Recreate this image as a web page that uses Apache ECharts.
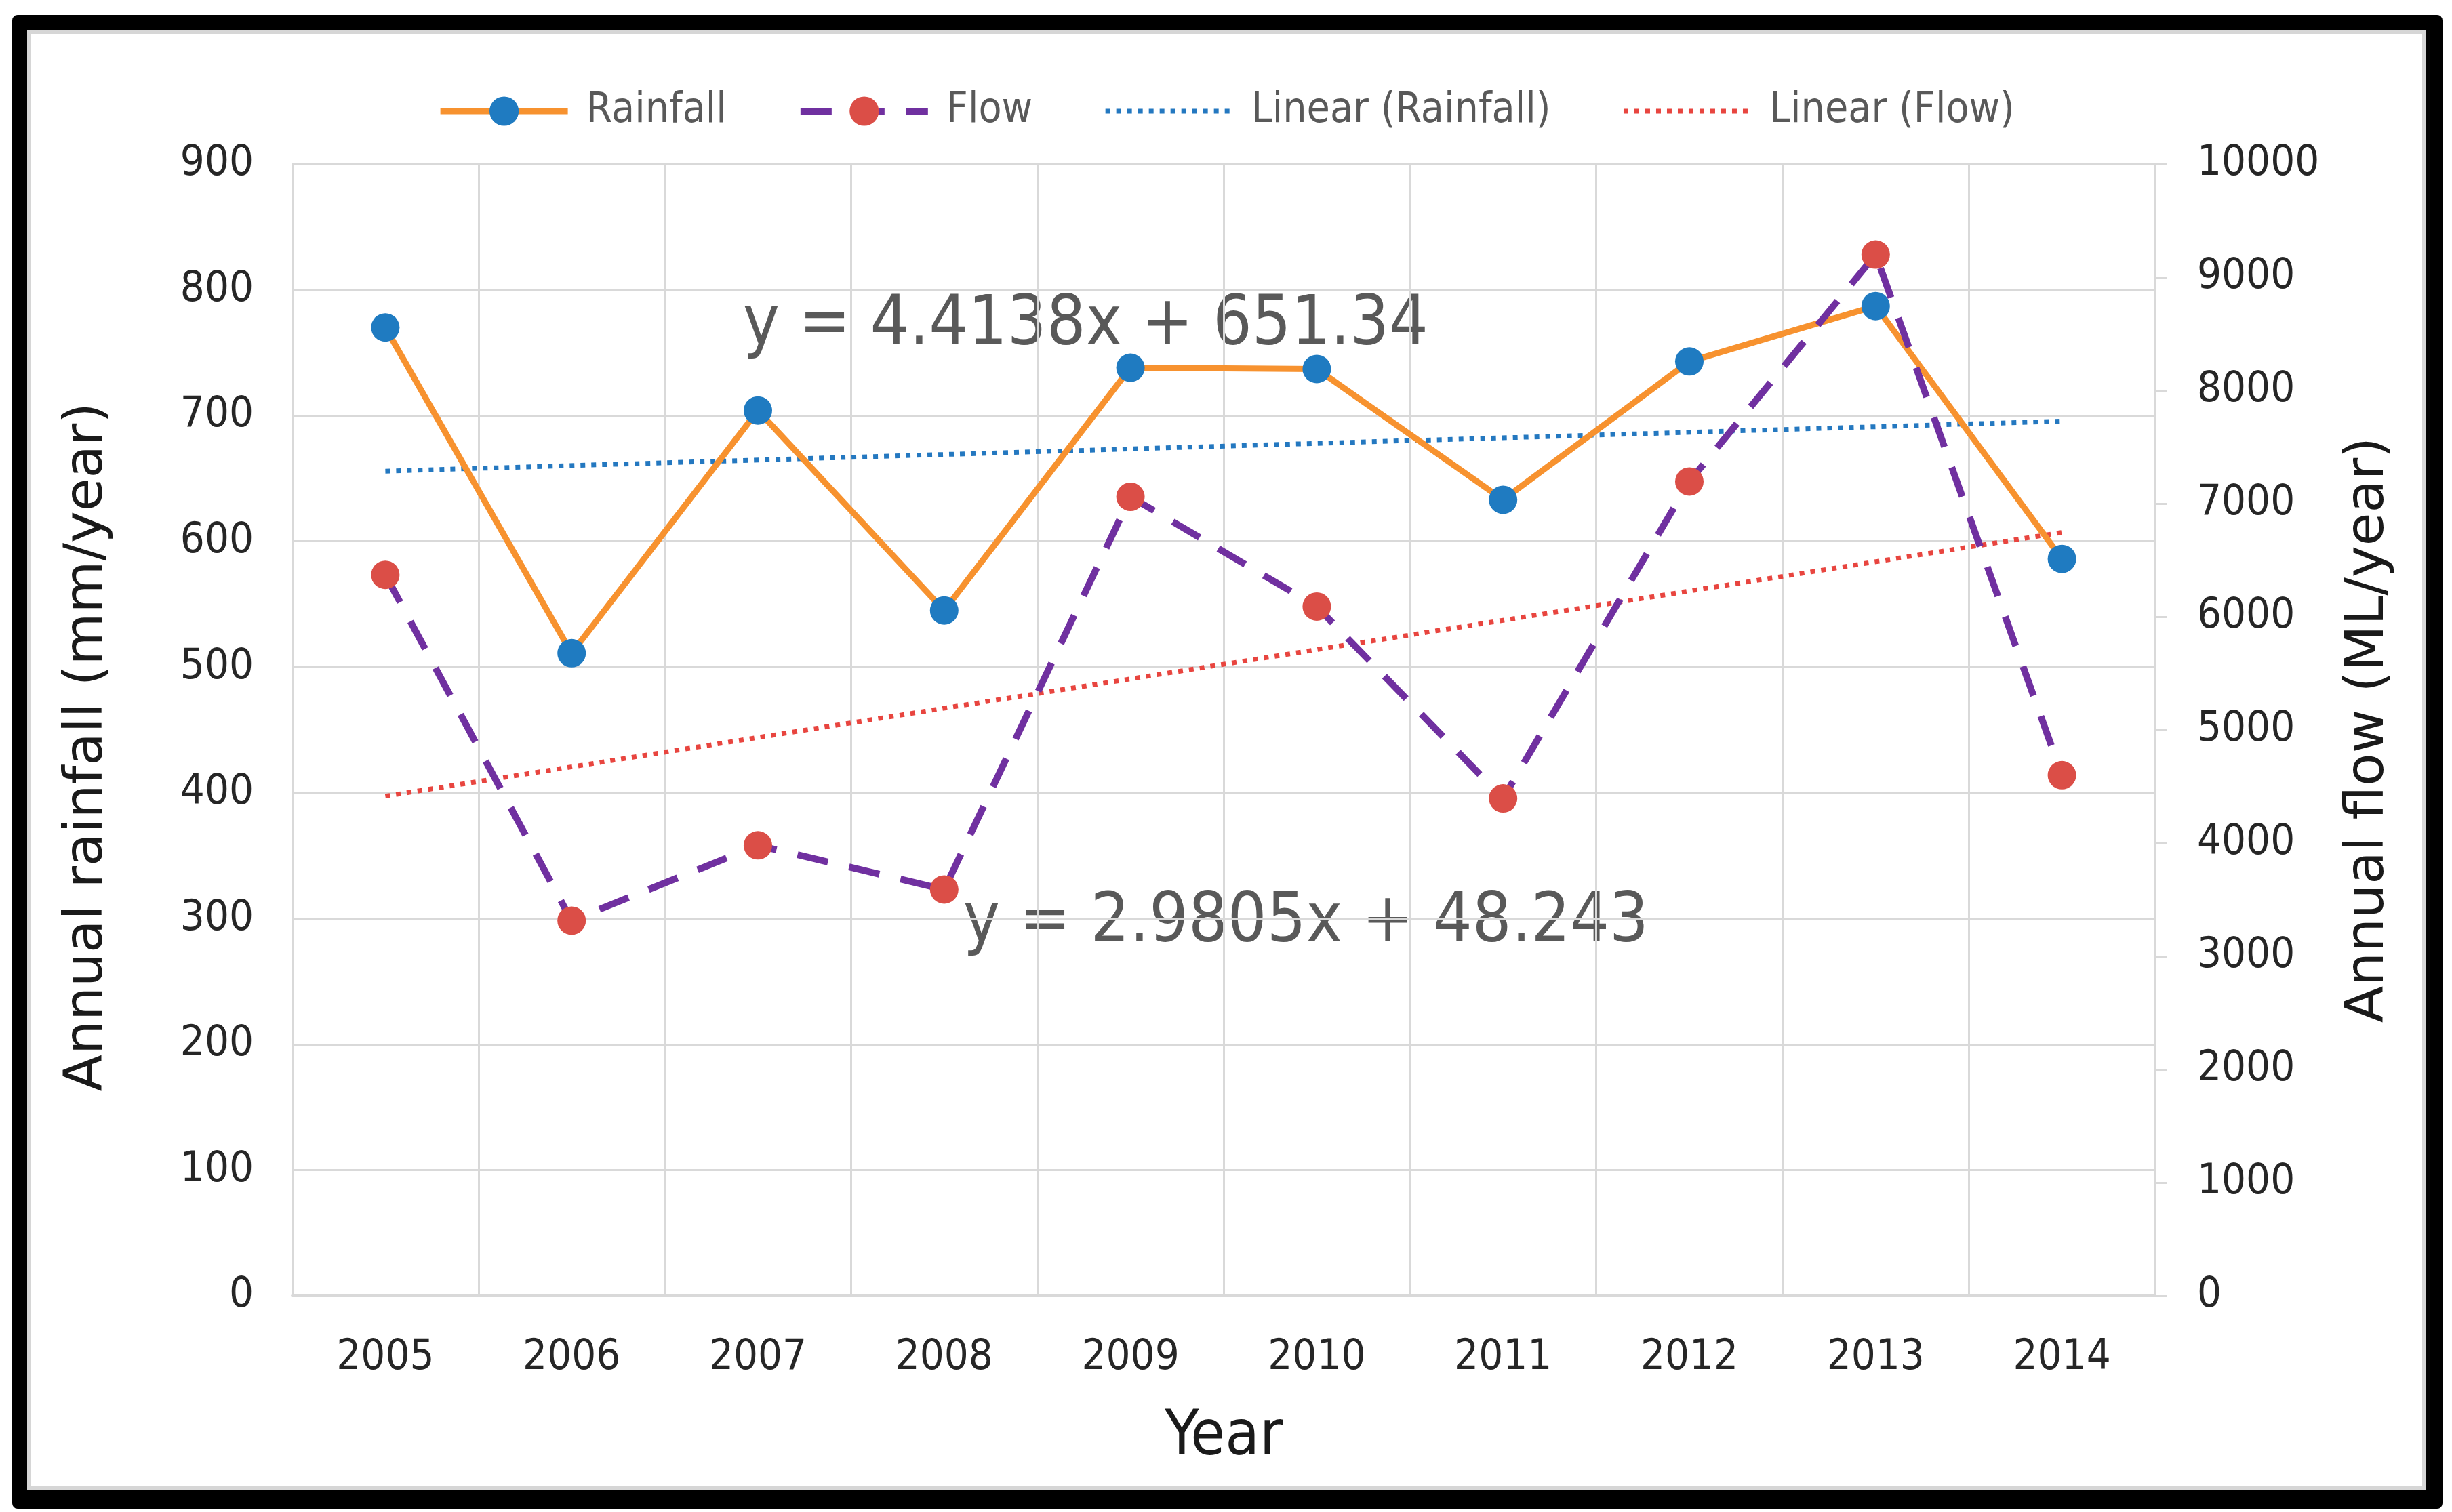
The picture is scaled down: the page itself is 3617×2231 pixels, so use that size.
<!DOCTYPE html>
<html>
<head>
<meta charset="utf-8">
<title>Annual rainfall and flow</title>
<script src="https://cdn.jsdelivr.net/npm/echarts@6/dist/echarts.min.js"></script>
<style>
  html, body { margin: 0; padding: 0; background: #fff; }
  #frame {
    position: absolute; left: 18px; top: 22px; width: 3585px; height: 2204px;
    box-sizing: border-box; border: 22px solid #000; border-right-width: 24px; border-bottom-width: 28px;
    border-radius: 8px; box-shadow: inset 0 0 0 6px #d6d6d6; background: #fff;
  }
  #main { position: absolute; left: 0; top: 0; width: 3617px; height: 2231px; }
</style>
</head>
<body>
<div id="frame"></div>
<div id="main"></div>
<script>
// 年份
var years = ['2005', '2006', '2007', '2008', '2009', '2010', '2011', '2012', '2013', '2014'];
// 年降雨量 mm/year (左轴)
var rainfall = [770, 511, 704, 545, 738, 737, 633, 743, 787, 586];
// 年流量 ML/year (右轴)
var flow = [6370, 3315, 3980, 3590, 7060, 6090, 4395, 7195, 9200, 4600];
// 趋势线两端的值 (2005, 2014)
var rainTrend = [655.8, 695.5];
var flowTrend = [4415, 6745];
// 趋势线公式
var rainEq = 'y = 4.4138x + 651.34';
var flowEq = 'y = 2.9805x + 48.243';

var narrow = "'DejaVu Sans Condensed', 'Liberation Sans Narrow', sans-serif";
var wide = "'DejaVu Sans', Verdana, sans-serif";

var chart = echarts.init(document.getElementById('main'), null, { renderer: 'canvas' });

var option = {
  animation: false,
  grid: { left: 431, right: 3617 - 3179, top: 242, bottom: 2231 - 1912, containLabel: false },
  legend: {
    top: 128,
    left: 'center',
    itemWidth: 188,
    itemHeight: 54,
    itemGap: 104,
    textStyle: { fontFamily: narrow, fontSize: 62, color: '#595959', padding: [0, 0, 0, 22] },
    data: [
      { name: 'Rainfall', lineStyle: { width: 9 } },
      { name: 'Flow', lineStyle: { width: 10 } },
      { name: 'Linear (Rainfall)', lineStyle: { width: 7 }, itemStyle: { color: 'rgba(0,0,0,0)', borderWidth: 0 } },
      { name: 'Linear (Flow)', lineStyle: { width: 7 }, itemStyle: { color: 'rgba(0,0,0,0)', borderWidth: 0 } }
    ]
  },
  xAxis: {
    type: 'category',
    data: years,
    boundaryGap: true,
    name: 'Year',
    nameLocation: 'middle',
    nameGap: 164,
    nameTextStyle: { fontFamily: narrow, fontSize: 92, color: '#1a1a1a' },
    axisLine: { lineStyle: { color: '#d9d9d9', width: 4 } },
    axisTick: { show: false },
    axisLabel: { fontFamily: narrow, fontSize: 63, color: '#262626', margin: 60 },
    splitLine: { show: true, lineStyle: { color: '#d9d9d9', width: 3 } }
  },
  yAxis: [
    {
      type: 'value',
      min: 0, max: 900, interval: 100,
      name: 'Annual rainfall (mm/year)',
      nameLocation: 'middle',
      nameGap: 262,
      nameTextStyle: { fontFamily: wide, fontSize: 79, color: '#1a1a1a', padding: [0, 0, 0, -50] },
      axisLine: { show: true, lineStyle: { color: '#d9d9d9', width: 3 } },
      axisTick: { show: false },
      axisLabel: { fontFamily: narrow, fontSize: 63, color: '#262626', margin: 57 },
      splitLine: { show: true, lineStyle: { color: '#d9d9d9', width: 3 } }
    },
    {
      type: 'value',
      min: 0, max: 10000, interval: 1000,
      name: 'Annual flow (ML/year)',
      nameLocation: 'middle',
      nameRotate: 90,
      nameGap: 276,
      nameTextStyle: { fontFamily: wide, fontSize: 79, color: '#1a1a1a' },
      axisLine: { show: true, lineStyle: { color: '#d9d9d9', width: 3 } },
      axisTick: { show: true, length: 18, lineStyle: { color: '#d9d9d9', width: 3 } },
      axisLabel: {
        fontFamily: narrow, fontSize: 63, color: '#262626', margin: 62,
        formatter: function (v) { return String(v); }
      },
      splitLine: { show: false }
    }
  ],
  graphic: [
    { type: 'text', left: 1096, top: 473 - 42, style: { text: rainEq, font: '101px ' + narrow, fill: '#595959' } },
    { type: 'text', left: 1421, top: 1354 - 42, style: { text: flowEq, font: '101px ' + narrow, fill: '#595959' } }
  ],
  series: [
    {
      name: 'Rainfall',
      type: 'line',
      yAxisIndex: 0,
      data: rainfall,
      symbol: 'circle',
      symbolSize: 42,
      lineStyle: { color: '#F7922F', width: 9 },
      itemStyle: { color: '#1F7BC1' },
      z: 3
    },
    {
      name: 'Flow',
      type: 'line',
      yAxisIndex: 1,
      data: flow,
      symbol: 'circle',
      symbolSize: 42,
      lineStyle: { color: '#7030A0', width: 10, type: [46, 32] },
      itemStyle: { color: '#DB4E47' },
      z: 4
    },
    {
      name: 'Linear (Rainfall)',
      type: 'line',
      yAxisIndex: 0,
      data: [[years[0], rainTrend[0]], [years[years.length - 1], rainTrend[1]]],
      symbol: 'none',
      lineStyle: { color: '#2478C0', width: 7, type: [7, 9] },
      itemStyle: { color: '#2478C0' },
      z: 2
    },
    {
      name: 'Linear (Flow)',
      type: 'line',
      yAxisIndex: 1,
      data: [[years[0], flowTrend[0]], [years[years.length - 1], flowTrend[1]]],
      symbol: 'none',
      lineStyle: { color: '#E8453F', width: 7, type: [7, 9] },
      itemStyle: { color: '#E8453F' },
      z: 2
    }
  ]
};

chart.setOption(option);
</script>
</body>
</html>
